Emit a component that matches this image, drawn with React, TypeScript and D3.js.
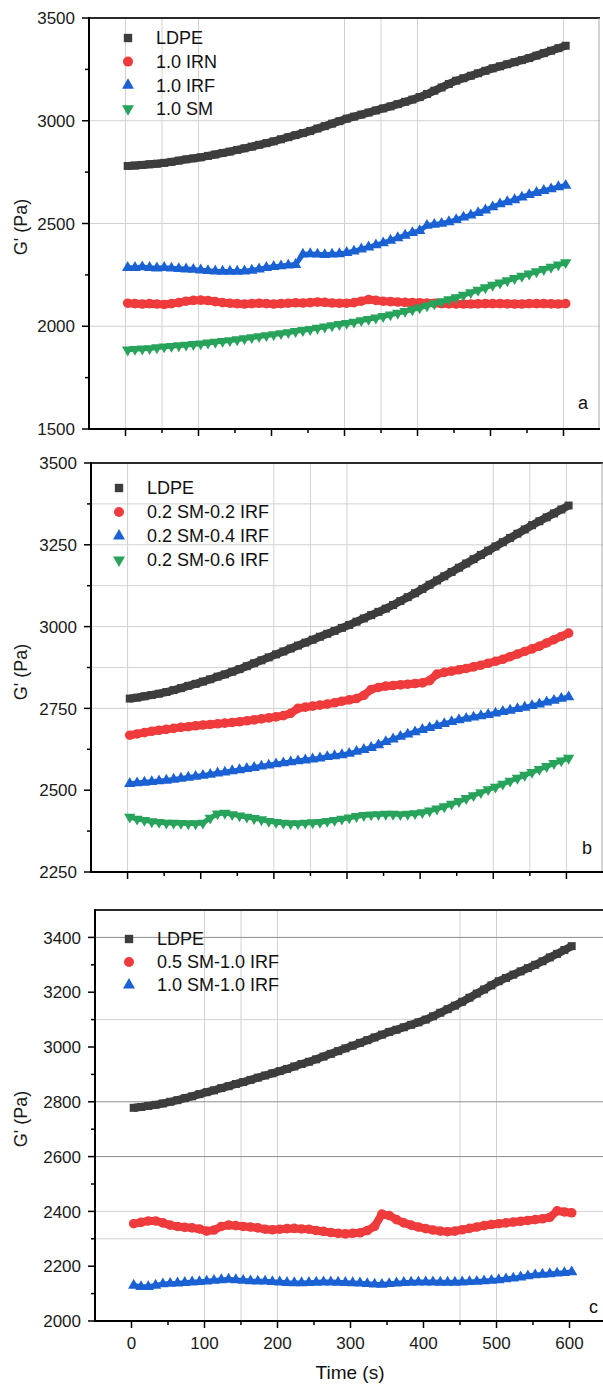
import React from "react";
import * as d3 from "d3";

// sampling times (s), one marker every 10 s
const TIME = d3.range(3, 604, 10);

// panel a
const LDPE_A = [
  2780, 2782, 2785, 2788, 2791, 2795, 2800, 2806, 2812, 2817,
  2822, 2829, 2836, 2843, 2850, 2858, 2866, 2874, 2883, 2891,
  2900, 2910, 2920, 2930, 2940, 2950, 2962, 2974, 2986, 2998,
  3010, 3020, 3030, 3040, 3050, 3060, 3070, 3081, 3092, 3103,
  3115, 3130, 3146, 3162, 3179, 3195, 3207, 3219, 3231, 3243,
  3255, 3265, 3275, 3285, 3295, 3305, 3317, 3329, 3341, 3353,
  3365,
];
const IRN_A = [
  2112, 2110, 2108, 2110, 2108, 2106, 2110, 2115, 2122, 2126,
  2127, 2125, 2120, 2115, 2112, 2110, 2108, 2110, 2112, 2110,
  2108, 2110, 2112, 2114, 2113, 2115, 2118, 2116, 2113, 2112,
  2112, 2115, 2122, 2130, 2126, 2122, 2120, 2118, 2116, 2115,
  2114, 2113, 2112, 2110, 2109, 2108, 2108, 2108, 2109, 2110,
  2110, 2110, 2109, 2108, 2108, 2110, 2110, 2110, 2109, 2108,
  2110,
];
const IRF_A = [
  2285, 2285, 2288, 2285, 2283, 2285, 2282, 2280, 2278, 2276,
  2273, 2270, 2268, 2267, 2267, 2267, 2268, 2272, 2278, 2285,
  2290, 2293, 2297, 2300, 2350, 2352, 2350, 2348, 2350, 2352,
  2358, 2365, 2375, 2385, 2395, 2405, 2418, 2430, 2442, 2455,
  2465, 2490, 2495, 2500, 2508, 2518, 2530, 2540, 2552, 2565,
  2580, 2595, 2605, 2615, 2628, 2640, 2650, 2660, 2668, 2678,
  2685,
];
const SM_A = [
  1885, 1888, 1890, 1892, 1896, 1900, 1903, 1906, 1909, 1912,
  1915, 1919, 1923, 1927, 1931, 1935, 1940, 1945, 1950, 1955,
  1960, 1965, 1970, 1975, 1980, 1985, 1991, 1997, 2003, 2009,
  2015, 2021, 2028, 2034, 2041, 2048, 2056, 2064, 2073, 2081,
  2090, 2100, 2110, 2120, 2130, 2140, 2152, 2164, 2176, 2188,
  2200, 2211, 2222, 2233, 2244, 2255, 2266, 2277, 2288, 2299,
  2310,
];

// panel b
const LDPE_B = [
  2780, 2783, 2787, 2791, 2795, 2800, 2806, 2812, 2819, 2825,
  2832, 2839, 2847, 2854, 2862, 2870, 2879, 2888, 2897, 2906,
  2915, 2924, 2933, 2942, 2951, 2960, 2969, 2978, 2987, 2996,
  3005, 3015, 3025, 3035, 3045, 3055, 3066, 3078, 3090, 3102,
  3115, 3128, 3141, 3154, 3167, 3180, 3193, 3206, 3219, 3232,
  3245, 3258, 3271, 3284, 3297, 3310, 3322, 3334, 3346, 3358,
  3370,
];
const SM02_IRF02_B = [
  2668, 2672, 2676, 2680, 2683, 2686, 2689, 2692, 2694, 2697,
  2699, 2701, 2703, 2705, 2707, 2709, 2712, 2715, 2718, 2721,
  2724, 2728, 2735, 2750, 2754, 2757, 2760, 2763, 2767, 2772,
  2776, 2780, 2790, 2808, 2814, 2818, 2820, 2822, 2824, 2826,
  2828, 2835, 2855, 2860, 2864, 2868, 2872, 2877, 2882, 2888,
  2894, 2900, 2908, 2916, 2924, 2932, 2940, 2950, 2960, 2970,
  2980,
];
const SM02_IRF04_B = [
  2520, 2522, 2524, 2526, 2528, 2530, 2533, 2536, 2539, 2542,
  2545, 2548, 2552, 2555, 2559, 2562, 2566, 2569, 2573, 2576,
  2580, 2583, 2586, 2589, 2592, 2595, 2598, 2602, 2605, 2608,
  2612, 2618, 2624, 2630, 2638, 2648, 2656, 2664, 2671, 2678,
  2685, 2691, 2697, 2703, 2709, 2715, 2719, 2723, 2727, 2731,
  2735, 2740, 2744, 2749, 2753, 2758, 2763, 2769, 2774, 2780,
  2785,
];
const SM02_IRF06_B = [
  2418, 2412, 2408, 2404, 2402, 2400, 2400, 2399, 2398, 2398,
  2400, 2415, 2428, 2430, 2426, 2422, 2418, 2414, 2410, 2405,
  2402, 2400, 2398, 2398, 2400, 2401, 2402, 2405, 2408, 2412,
  2416, 2420, 2423, 2425, 2426, 2427, 2427, 2426, 2427, 2429,
  2432, 2437, 2443, 2450, 2458, 2466, 2475, 2484, 2493, 2502,
  2510, 2519, 2528, 2537, 2546, 2555, 2564, 2573, 2582, 2590,
  2598,
];

// panel c
const LDPE_C = [
  2778, 2781, 2785, 2789, 2794, 2800, 2806, 2813, 2820, 2828,
  2835, 2842, 2850, 2857, 2865, 2872, 2880, 2888, 2896, 2904,
  2912, 2920, 2929, 2938, 2946, 2955, 2965, 2975, 2985, 2995,
  3005, 3015, 3025, 3035, 3045, 3055, 3063, 3072, 3081, 3090,
  3100, 3112, 3125, 3138, 3151, 3165, 3180, 3195, 3210, 3225,
  3240, 3252, 3264, 3276, 3288, 3300, 3313, 3327, 3340, 3354,
  3368,
];
const SM05_IRF10_C = [
  2355, 2360, 2365, 2365, 2358, 2350, 2345, 2342, 2340, 2336,
  2328, 2332, 2345, 2350, 2348, 2345, 2343, 2340, 2335, 2333,
  2335, 2337, 2338, 2336, 2335, 2330, 2327, 2323, 2320, 2318,
  2320, 2322, 2330, 2345, 2390, 2385, 2370, 2358, 2350, 2343,
  2337, 2332, 2328, 2326, 2328, 2333, 2338, 2343, 2348, 2352,
  2355, 2358, 2361, 2364, 2367, 2370, 2373, 2378, 2402, 2398,
  2395,
];
const SM10_IRF10_C = [
  2130, 2125, 2125, 2130, 2135, 2137, 2138, 2140, 2142, 2143,
  2145, 2148, 2150, 2152, 2150, 2148, 2146, 2145, 2145, 2143,
  2142, 2140, 2139, 2139, 2140, 2141, 2142, 2142, 2141, 2140,
  2139, 2138, 2136, 2134, 2133, 2136, 2138, 2140, 2141, 2142,
  2142, 2142, 2141, 2141, 2141, 2142, 2143, 2144, 2146, 2148,
  2150, 2153, 2156, 2160, 2164, 2168, 2170, 2172, 2174, 2176,
  2179,
];

const X_TICKS = [0, 100, 200, 300, 400, 500, 600];
const X_MINOR = [50, 150, 250, 350, 450, 550];

const FONT = "'Liberation Sans', Arial, sans-serif";
const GREY = "#3d3d3d";
const RED = "#ef3b3c";
const BLUE = "#1a62d4";
const GREEN = "#27a35b";

type Shape = "square" | "circle" | "up" | "down";

interface Series {
  name: string;
  values: number[];
  color: string;
  shape: Shape;
}

interface Panel {
  id: string;
  top: number;
  bottom: number;
  left: number;
  right: number;
  yDomain: [number, number];
  yTicks: number[];
  yMinor: number[];
  gridX: number[];
  gridY: { v: number; dark?: boolean }[];
  legend: { x: number; y: number; gap: number };
  label: { x: number; y: number };
  xLabels: boolean;
  titleY: number;
  series: Series[];
}

const symbolPath = (shape: Shape, big = false) => {
  const k = big ? 1.1 : 1;
  if (shape === "square") return d3.symbol().type(d3.symbolSquare).size(64 * k)()!;
  if (shape === "circle") return d3.symbol().type(d3.symbolCircle).size(72 * k)()!;
  return d3.symbol().type(d3.symbolTriangle).size(56 * k)()!;
};

// width of the band that the dense markers form
const bandWidth: Record<Shape, number> = { square: 8, circle: 8, up: 5, down: 5 };

const PANELS: Panel[] = [
  {
    id: "a",
    top: 18,
    bottom: 429,
    left: 89,
    right: 600,
    yDomain: [1500, 3500],
    yTicks: d3.range(1500, 3501, 500),
    yMinor: d3.range(1750, 3500, 500),
    gridX: [0, 50, 100, 300, 350, 400, 600],
    gridY: [{ v: 2000 }, { v: 2500 }, { v: 3000 }],
    legend: { x: 128, y: 38, gap: 23.6 },
    label: { x: 578, y: 409 },
    xLabels: false,
    titleY: 227,
    series: [
      { name: "LDPE", values: LDPE_A, color: GREY, shape: "square" },
      { name: "1.0 IRN", values: IRN_A, color: RED, shape: "circle" },
      { name: "1.0 IRF", values: IRF_A, color: BLUE, shape: "up" },
      { name: "1.0 SM", values: SM_A, color: GREEN, shape: "down" },
    ],
  },
  {
    id: "b",
    top: 463,
    bottom: 872,
    left: 91,
    right: 603,
    yDomain: [2250, 3500],
    yTicks: d3.range(2250, 3501, 250),
    yMinor: d3.range(2375, 3500, 250),
    gridX: [0, 200, 250, 300, 500, 550, 600],
    gridY: [{ v: 2750 }, { v: 2875 }, { v: 3000 }, { v: 3125 }, { v: 3250 }, { v: 3375 }],
    legend: { x: 119, y: 488, gap: 24 },
    label: { x: 582, y: 854 },
    xLabels: false,
    titleY: 672,
    series: [
      { name: "LDPE", values: LDPE_B, color: GREY, shape: "square" },
      { name: "0.2 SM-0.2 IRF", values: SM02_IRF02_B, color: RED, shape: "circle" },
      { name: "0.2 SM-0.4 IRF", values: SM02_IRF04_B, color: BLUE, shape: "up" },
      { name: "0.2 SM-0.6 IRF", values: SM02_IRF06_B, color: GREEN, shape: "down" },
    ],
  },
  {
    id: "c",
    top: 910,
    bottom: 1321,
    left: 95,
    right: 606,
    yDomain: [2000, 3500],
    yTicks: d3.range(2000, 3401, 200),
    yMinor: d3.range(2100, 3500, 200),
    gridX: [100, 150, 200, 450, 500],
    gridY: [
      { v: 3400, dark: true },
      { v: 3100 },
      { v: 2800, dark: true },
      { v: 2600, dark: true },
      { v: 2400 },
      { v: 2300 },
    ],
    legend: { x: 129, y: 939, gap: 23 },
    label: { x: 589, y: 1313 },
    xLabels: true,
    titleY: 1119,
    series: [
      { name: "LDPE", values: LDPE_C, color: GREY, shape: "square" },
      { name: "0.5 SM-1.0 IRF", values: SM05_IRF10_C, color: RED, shape: "circle" },
      { name: "1.0 SM-1.0 IRF", values: SM10_IRF10_C, color: BLUE, shape: "up" },
    ],
  },
];

const Marker = ({ shape, color, x, y, big }: { shape: Shape; color: string; x: number; y: number; big?: boolean }) => (
  <path
    d={symbolPath(shape, big)}
    fill={color}
    transform={`translate(${x},${y})${shape === "down" ? " rotate(180)" : ""}`}
  />
);

const PanelView = ({ p }: { p: Panel }) => {
  const x = d3.scaleLinear().domain([-50, 650]).range([p.left, p.right]);
  const y = d3.scaleLinear().domain(p.yDomain).range([p.bottom, p.top]);
  const line = d3
    .line<number>()
    .x((_, i) => x(TIME[i]))
    .y((v) => y(v));

  return (
    <g>
      {/* grid */}
      {p.gridX.map((t) => (
        <line key={`gx${t}`} x1={x(t)} x2={x(t)} y1={p.top} y2={p.bottom} stroke="#d2d2d2" strokeWidth={1} />
      ))}
      {p.gridY.map((g) => (
        <line
          key={`gy${g.v}`}
          x1={p.left}
          x2={p.right}
          y1={y(g.v)}
          y2={y(g.v)}
          stroke={g.dark ? "#8c8c8c" : "#d2d2d2"}
          strokeWidth={1}
        />
      ))}

      {/* data */}
      {p.series.map((s) => (
        <g key={s.name}>
          <path
            d={line(s.values)!}
            fill="none"
            stroke={s.color}
            strokeWidth={bandWidth[s.shape]}
            strokeLinejoin="round"
          />
          {s.values.map((v, i) => (
            <Marker key={i} shape={s.shape} color={s.color} x={x(TIME[i])} y={y(v)} />
          ))}
        </g>
      ))}

      {/* frame */}
      <line x1={p.left} x2={p.right} y1={p.top} y2={p.top} stroke="#2a2a2a" strokeWidth={2} />
      <line x1={p.right - 1} x2={p.right - 1} y1={p.top} y2={p.bottom} stroke="#a8a8a8" strokeWidth={1} />
      <line x1={p.left} x2={p.left} y1={p.top - 1} y2={p.bottom + 1} stroke="#000" strokeWidth={2} />
      <line x1={p.left - 1} x2={p.right} y1={p.bottom} y2={p.bottom} stroke="#000" strokeWidth={2} />

      {/* y ticks */}
      {p.yTicks.map((v) => (
        <g key={`yt${v}`}>
          <line x1={p.left - 7} x2={p.left} y1={y(v)} y2={y(v)} stroke="#000" strokeWidth={1.5} />
          <text
            x={p.left - 14}
            y={y(v)}
            dy="0.36em"
            textAnchor="end"
            fontSize={17}
            fontFamily={FONT}
            fill="#1a1a1a"
          >
            {v}
          </text>
        </g>
      ))}
      {p.yMinor.map((v) => (
        <line key={`ym${v}`} x1={p.left - 4} x2={p.left} y1={y(v)} y2={y(v)} stroke="#000" strokeWidth={1.5} />
      ))}

      {/* x ticks */}
      {X_TICKS.map((t) => (
        <g key={`xt${t}`}>
          <line x1={x(t)} x2={x(t)} y1={p.bottom} y2={p.bottom + 7} stroke="#000" strokeWidth={1.5} />
          {p.xLabels && (
            <text x={x(t)} y={p.bottom + 28} textAnchor="middle" fontSize={17} fontFamily={FONT} fill="#1a1a1a">
              {t}
            </text>
          )}
        </g>
      ))}
      {X_MINOR.map((t) => (
        <line key={`xm${t}`} x1={x(t)} x2={x(t)} y1={p.bottom} y2={p.bottom + 4} stroke="#000" strokeWidth={1.5} />
      ))}

      {/* y title */}
      <text
        transform={`translate(21,${p.titleY}) rotate(-90)`}
        textAnchor="middle"
        dy="0.35em"
        fontSize={18}
        fontFamily={FONT}
        fill="#1a1a1a"
      >
        G' (Pa)
      </text>

      {/* legend */}
      {p.series.map((s, i) => (
        <g key={`lg${s.name}`}>
          <Marker shape={s.shape} color={s.color} x={p.legend.x} y={p.legend.y + i * p.legend.gap} big />
          <text
            x={p.legend.x + 28}
            y={p.legend.y + i * p.legend.gap}
            dy="0.36em"
            fontSize={18}
            fontFamily={FONT}
            fill="#111"
          >
            {s.name}
          </text>
        </g>
      ))}

      {/* panel letter */}
      <text x={p.label.x} y={p.label.y} fontSize={18} fontFamily={FONT} fill="#111">
        {p.id}
      </text>
    </g>
  );
};

export default function App() {
  return (
    <svg
      width={603}
      height={1387}
      style={{ position: "absolute", left: 0, top: 0, background: "#fff" }}
    >
      <rect width={603} height={1387} fill="#fff" />
      {PANELS.map((p) => (
        <PanelView key={p.id} p={p} />
      ))}
      <text x={350} y={1379} textAnchor="middle" fontSize={19} fontFamily={FONT} fill="#111">
        Time (s)
      </text>
    </svg>
  );
}
